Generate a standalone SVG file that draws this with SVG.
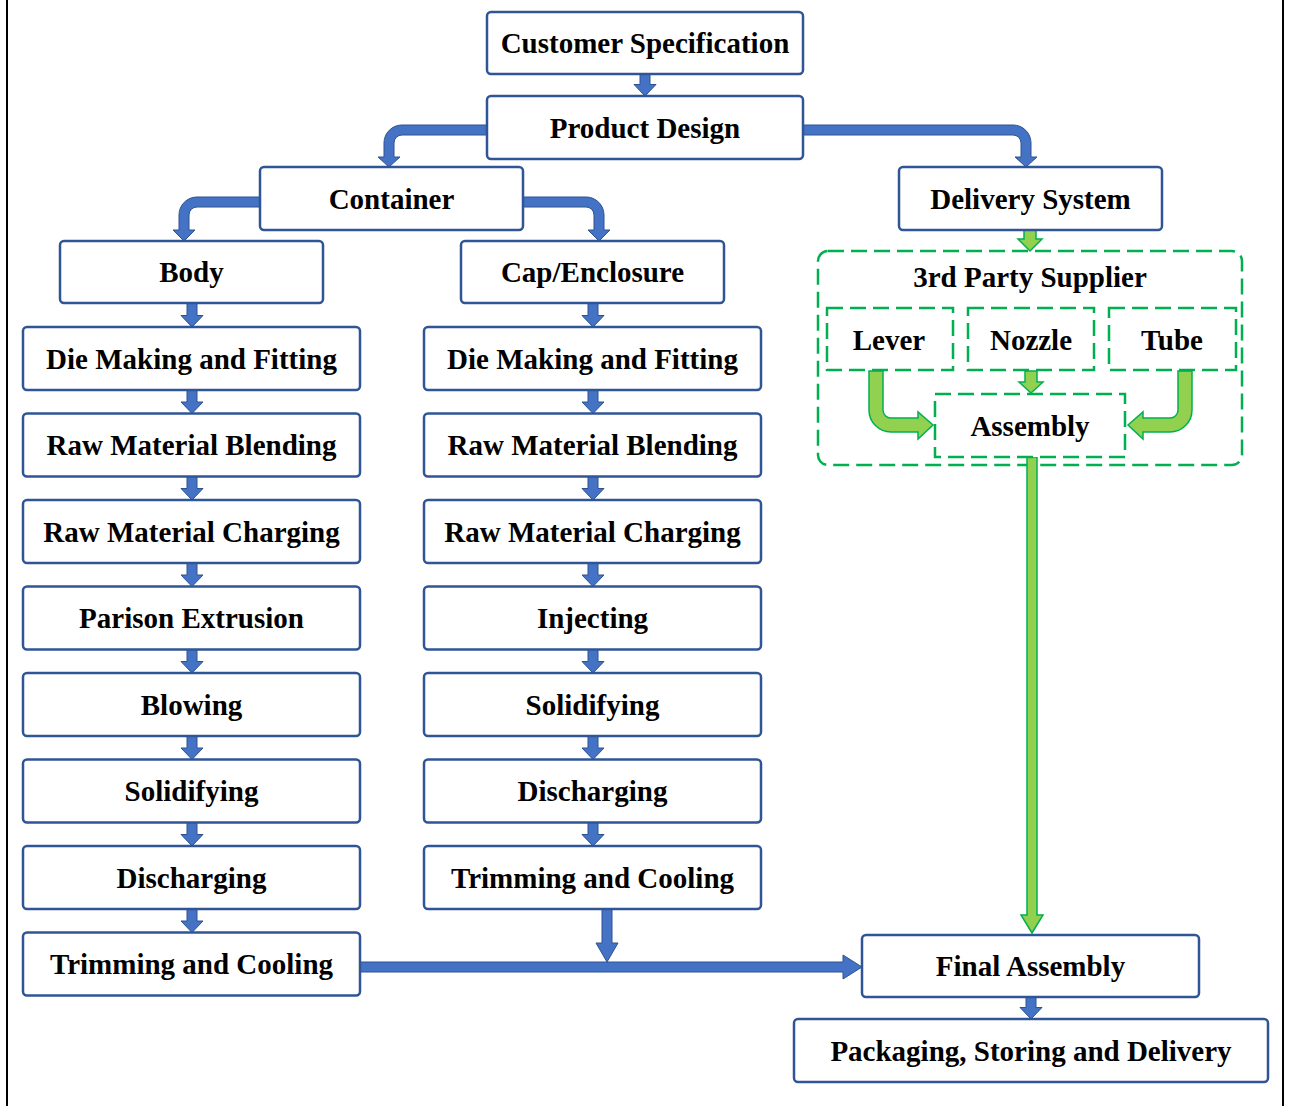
<svg xmlns="http://www.w3.org/2000/svg" xmlns:xlink="http://www.w3.org/1999/xlink" width="1289" height="1106" viewBox="0 0 1289 1106">
<style>
.box{fill:#fff;stroke:#2F5597;stroke-width:2.5}
.gbox{fill:#fff;stroke:#00B050;stroke-width:2.5;stroke-dasharray:16 7}
.gouter{fill:none;stroke:#00B050;stroke-width:2.5;stroke-dasharray:16 7}
.t{font-family:"Liberation Serif","Times New Roman",serif;font-weight:bold;font-size:29px;fill:#000;text-anchor:middle}
.ba{fill:#4472C4;stroke:#2F528F;stroke-width:1}
.ga{fill:#92D050;stroke:#00B050;stroke-width:1.5}
.frame{stroke:#000;stroke-width:2}
</style>
<defs>
<path id="dn" d="M-5,0 L5,0 L5,12.5 L11,12.5 L0,24 L-11,12.5 L-5,12.5 Z"/>
</defs>
<rect width="1289" height="1106" fill="#fff"/>
<line class="frame" x1="7" y1="0" x2="7" y2="1106"/>
<line class="frame" x1="1283" y1="0" x2="1283" y2="1106"/>

<g id="supplier-group">
<rect class="gouter" x="818" y="251" width="424" height="214" rx="10"/>
<text class="t" x="1030" y="287">3rd Party Supplier</text>
</g>

<g id="connectors">
<use href="#dn" class="ba" x="645" y="72"/>
<path class="ba" d="M487,125 L402,125 A18,18 0 0 0 384,143 L384,157 L378,157 L389,167 L400,157 L394,157 L394,143 A8,8 0 0 1 402,135 L487,135 Z"/>
<path class="ba" d="M803,125 L1013,125 A18,18 0 0 1 1031,143 L1031,157 L1037,157 L1026,167 L1015,157 L1021,157 L1021,143 A8,8 0 0 0 1013,135 L803,135 Z"/>
<path class="ba" d="M260,197 L197,197 A18,18 0 0 0 179,215 L179,230 L173,230 L184,241 L195,230 L189,230 L189,215 A8,8 0 0 1 197,207 L260,207 Z"/>
<path class="ba" d="M523,197 L586,197 A18,18 0 0 1 604,215 L604,230 L610,230 L599,241 L588,230 L594,230 L594,215 A8,8 0 0 0 586,207 L523,207 Z"/>
<use href="#dn" class="ba" x="192" y="303"/>
<use href="#dn" class="ba" x="593" y="303"/>
<use href="#dn" class="ba" x="192" y="389.5"/>
<use href="#dn" class="ba" x="192" y="476"/>
<use href="#dn" class="ba" x="192" y="562.5"/>
<use href="#dn" class="ba" x="192" y="649"/>
<use href="#dn" class="ba" x="192" y="735.5"/>
<use href="#dn" class="ba" x="192" y="822"/>
<use href="#dn" class="ba" x="192" y="908.5"/>
<use href="#dn" class="ba" x="593" y="389.5"/>
<use href="#dn" class="ba" x="593" y="476"/>
<use href="#dn" class="ba" x="593" y="562.5"/>
<use href="#dn" class="ba" x="593" y="649"/>
<use href="#dn" class="ba" x="593" y="735.5"/>
<use href="#dn" class="ba" x="593" y="822"/>
<path class="ba" d="M602,909 L612,909 L612,943 L618,943 L607,962 L596,943 L602,943 Z"/>
<path class="ba" d="M360,962 L843,962 L843,955 L862,967 L843,979 L843,972 L360,972 Z"/>
<use href="#dn" class="ba" x="1031" y="995"/>
<path class="ga" d="M1024,230 L1036,230 L1036,239 L1042,239 L1030,251 L1018,239 L1024,239 Z"/>
<path class="ga" d="M1025,371 L1037,371 L1037,382 L1043,382 L1031,393 L1019,382 L1025,382 Z"/>
<path class="ga" d="M869,371 L883,371 L883,410 A8,8 0 0 0 891,418 L918,418 L918,412 L933,425 L918,439 L918,432 L891,432 A22,22 0 0 1 869,410 Z"/>
<path class="ga" d="M1178,371 L1192,371 L1192,410 A22,22 0 0 1 1170,432 L1143,432 L1143,439 L1128,425 L1143,412 L1143,418 L1170,418 A8,8 0 0 0 1178,410 Z"/>
<path class="ga" d="M1027,457 L1037,457 L1037,915 L1043,915 L1032,933 L1021,915 L1027,915 Z"/>
</g>

<g id="customer-specification"><rect class="box" x="487" y="12" width="316" height="62" rx="4"/><text class="t" x="645" y="53">Customer Specification</text></g>
<g id="product-design"><rect class="box" x="487" y="96" width="316" height="63" rx="4"/><text class="t" x="645" y="138">Product Design</text></g>
<g id="container"><rect class="box" x="260" y="167" width="263" height="63" rx="4"/><text class="t" x="391.5" y="209">Container</text></g>
<g id="delivery-system"><rect class="box" x="899" y="167" width="263" height="63" rx="4"/><text class="t" x="1030.5" y="209">Delivery System</text></g>
<g id="body"><rect class="box" x="60" y="241" width="263" height="62" rx="4"/><text class="t" x="191.5" y="282">Body</text></g>
<g id="cap-enclosure"><rect class="box" x="461" y="241" width="263" height="62" rx="4"/><text class="t" x="592.5" y="282">Cap/Enclosure</text></g>

<g id="body-die"><rect class="box" x="23" y="327" width="337" height="63" rx="4"/><text class="t" x="191.5" y="368.5">Die Making and Fitting</text></g>
<g id="body-blending"><rect class="box" x="23" y="413.5" width="337" height="63" rx="4"/><text class="t" x="191.5" y="455">Raw Material Blending</text></g>
<g id="body-charging"><rect class="box" x="23" y="500" width="337" height="63" rx="4"/><text class="t" x="191.5" y="541.5">Raw Material Charging</text></g>
<g id="body-parison"><rect class="box" x="23" y="586.5" width="337" height="63" rx="4"/><text class="t" x="191.5" y="628">Parison Extrusion</text></g>
<g id="body-blowing"><rect class="box" x="23" y="673" width="337" height="63" rx="4"/><text class="t" x="191.5" y="714.5">Blowing</text></g>
<g id="body-solidifying"><rect class="box" x="23" y="759.5" width="337" height="63" rx="4"/><text class="t" x="191.5" y="801">Solidifying</text></g>
<g id="body-discharging"><rect class="box" x="23" y="846" width="337" height="63" rx="4"/><text class="t" x="191.5" y="887.5">Discharging</text></g>
<g id="body-trimming"><rect class="box" x="23" y="932.5" width="337" height="63" rx="4"/><text class="t" x="191.5" y="974">Trimming and Cooling</text></g>

<g id="cap-die"><rect class="box" x="424" y="327" width="337" height="63" rx="4"/><text class="t" x="592.5" y="368.5">Die Making and Fitting</text></g>
<g id="cap-blending"><rect class="box" x="424" y="413.5" width="337" height="63" rx="4"/><text class="t" x="592.5" y="455">Raw Material Blending</text></g>
<g id="cap-charging"><rect class="box" x="424" y="500" width="337" height="63" rx="4"/><text class="t" x="592.5" y="541.5">Raw Material Charging</text></g>
<g id="cap-injecting"><rect class="box" x="424" y="586.5" width="337" height="63" rx="4"/><text class="t" x="592.5" y="628">Injecting</text></g>
<g id="cap-solidifying"><rect class="box" x="424" y="673" width="337" height="63" rx="4"/><text class="t" x="592.5" y="714.5">Solidifying</text></g>
<g id="cap-discharging"><rect class="box" x="424" y="759.5" width="337" height="63" rx="4"/><text class="t" x="592.5" y="801">Discharging</text></g>
<g id="cap-trimming"><rect class="box" x="424" y="846" width="337" height="63" rx="4"/><text class="t" x="592.5" y="887.5">Trimming and Cooling</text></g>

<g id="lever"><rect class="gbox" x="827" y="308" width="126" height="62"/><text class="t" x="889" y="350">Lever</text></g>
<g id="nozzle"><rect class="gbox" x="968" y="308" width="126" height="62"/><text class="t" x="1031" y="350">Nozzle</text></g>
<g id="tube"><rect class="gbox" x="1109" y="308" width="127" height="62"/><text class="t" x="1172" y="350">Tube</text></g>
<g id="assembly"><rect class="gbox" x="935" y="394" width="190" height="63"/><text class="t" x="1030" y="436">Assembly</text></g>

<g id="final-assembly"><rect class="box" x="862" y="935" width="337" height="62" rx="4"/><text class="t" x="1030.5" y="976">Final Assembly</text></g>
<g id="packaging"><rect class="box" x="794" y="1019" width="474" height="63" rx="4"/><text class="t" x="1031" y="1060.5">Packaging, Storing and Delivery</text></g>
</svg>
